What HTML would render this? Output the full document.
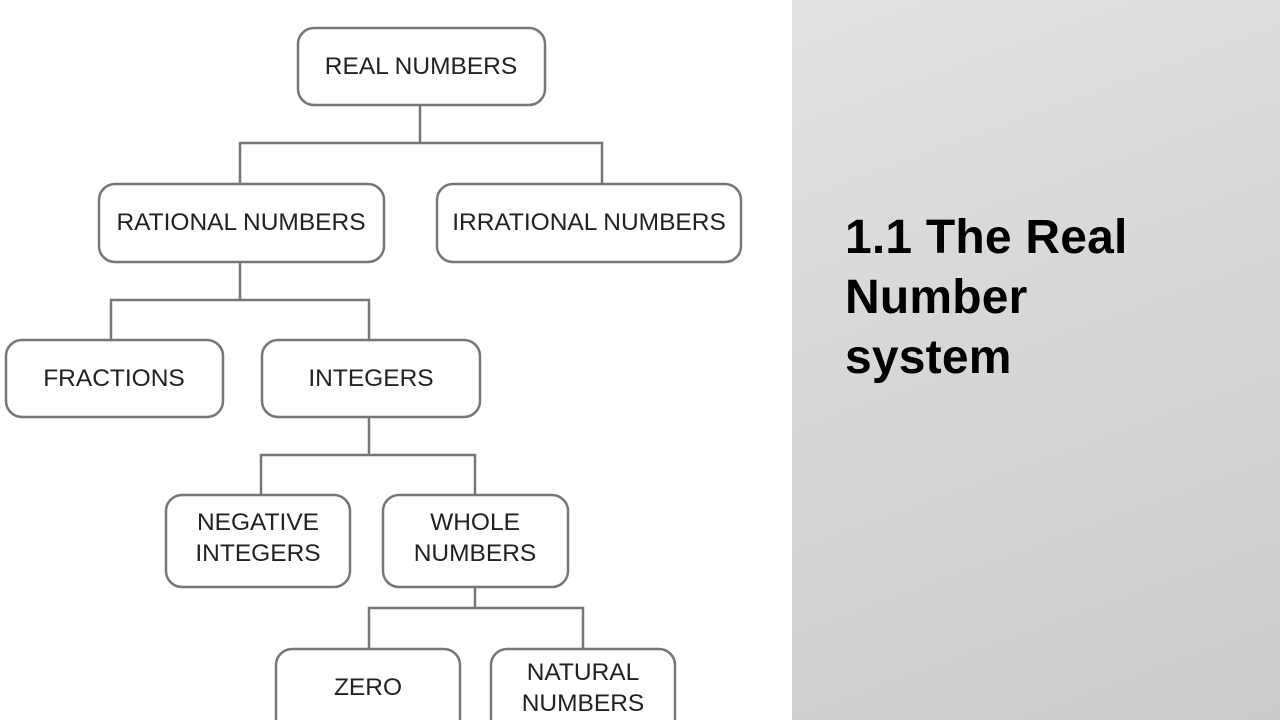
<!DOCTYPE html>
<html><head><meta charset="utf-8"><style>
html,body{margin:0;padding:0;width:1280px;height:720px;overflow:hidden;background:#fff;}
.panel{position:absolute;left:792px;top:0;width:488px;height:720px;background:linear-gradient(160deg,#e2e2e2 0%,#d6d6d6 50%,#cbcbcb 100%);}
.title{position:absolute;left:845px;top:208px;font-family:"Liberation Sans",sans-serif;font-weight:bold;font-size:48px;line-height:60px;color:#000;letter-spacing:0.2px;}
svg text{font-family:"Liberation Sans",sans-serif;font-size:24.5px;fill:#222;text-anchor:middle;}
</style></head><body>
<div class="panel"></div>
<div class="title">1.1 The Real<br>Number<br>system</div>
<svg width="792" height="720" style="position:absolute;left:0;top:0">
<g fill="none" stroke="#777" stroke-width="2.5">
<path d="M420 105V143M240 184V143H602V184"/>
<path d="M240 262V300M111 340V300H369V340"/>
<path d="M369 417V455M261 495V455H475V495"/>
<path d="M475 587V608M369 649V608H583V649"/>
</g>
<g fill="#fff" stroke="#777" stroke-width="2.5">
<rect x="298" y="28" width="247" height="77" rx="16"/>
<rect x="99" y="184" width="285" height="78" rx="16"/>
<rect x="437" y="184" width="304" height="78" rx="16"/>
<rect x="6" y="340" width="217" height="77" rx="16"/>
<rect x="262" y="340" width="218" height="77" rx="16"/>
<rect x="166" y="495" width="184" height="92" rx="16"/>
<rect x="383" y="495" width="185" height="92" rx="16"/>
<rect x="276" y="649" width="184" height="90" rx="16"/>
<rect x="491" y="649" width="184" height="90" rx="16"/>
</g>
<text x="421" y="74">REAL NUMBERS</text>
<text x="241" y="230">RATIONAL NUMBERS</text>
<text x="589" y="230">IRRATIONAL NUMBERS</text>
<text x="114" y="386">FRACTIONS</text>
<text x="371" y="386">INTEGERS</text>
<text x="258" y="530">NEGATIVE</text>
<text x="258" y="561">INTEGERS</text>
<text x="475" y="530">WHOLE</text>
<text x="475" y="561">NUMBERS</text>
<text x="368" y="695">ZERO</text>
<text x="583" y="680">NATURAL</text>
<text x="583" y="711">NUMBERS</text>
</svg>
</body></html>
